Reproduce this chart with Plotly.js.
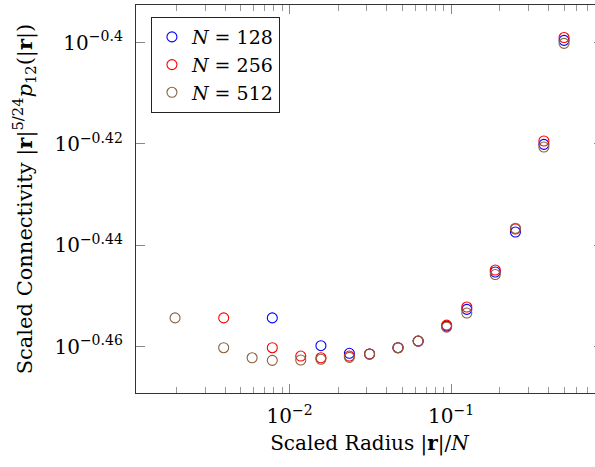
<!DOCTYPE html>
<html>
<head>
<meta charset="utf-8">
<script src="https://cdn.plot.ly/plotly-3.0.1.min.js"></script>
<style>
html,body{margin:0;padding:0;overflow:hidden;background:#fff;}
#chart{width:610px;height:467px;}
</style>
</head>
<body>
<div id="chart"></div>
<script>
// Scaled radius |r|/N and scaled connectivity values
const x128 = [1/128, 2/128, 3/128, 4/128, 6/128, 8/128, 12/128, 16/128, 24/128, 32/128, 48/128, 64/128];
const y128 = [0.35132, 0.34692, 0.34572, 0.34561, 0.34660, 0.34765, 0.35001, 0.35269, 0.35872, 0.36529, 0.38012, 0.39850];

const x256 = [1/256, 2/256, 3/256, 4/256, 6/256, 8/256, 12/256, 16/256, 24/256, 32/256, 48/256, 64/256, 96/256, 128/256];
const y256 = [0.35132, 0.34660, 0.34529, 0.34502, 0.34529, 0.34561, 0.34660, 0.34765, 0.35018, 0.35306, 0.35904, 0.36579, 0.38070, 0.39901];

const x512 = [1/512, 2/512, 3/512, 4/512, 6/512, 8/512, 12/512, 16/512, 24/512, 32/512, 48/512, 64/512, 96/512, 128/512, 192/512, 256/512];
const y512 = [0.35132, 0.34660, 0.34502, 0.34462, 0.34467, 0.34478, 0.34509, 0.34561, 0.34660, 0.34765, 0.34986, 0.35210, 0.35831, 0.36591, 0.37966, 0.39796];

const seriesNames = ['<i>N</i> = 128', '<i>N</i> = 256', '<i>N</i> = 512'];
const seriesColors = ['rgb(0,0,255)', 'rgb(255,0,0)', 'rgb(135,98,62)'];

const xTickVals = [0.01, 0.1];
const xTickText = ['10<sup>−2</sup>', '10<sup>−1</sup>'];
const yTickExp = [-0.46, -0.44, -0.42, -0.4];
const yTickText = ['10<sup>−0.46</sup>', '10<sup>−0.44</sup>', '10<sup>−0.42</sup>', '10<sup>−0.4</sup>'];

const xs = [x128, x256, x512];
const ys = [y128, y256, y512];
const traces = xs.map((xv, i) => ({
  x: xv, y: ys[i], type: 'scatter', mode: 'markers', name: seriesNames[i],
  marker: {symbol: 'circle-open', size: 10, color: seriesColors[i], line: {width: 1.1, color: seriesColors[i]}}
}));

const minorX = [];
[0.001, 0.01, 0.1].forEach(d => { for (let k = 2; k <= 9; k++) minorX.push(k * d); });

const fam = 'DejaVu Serif, Liberation Serif, serif';
const font = {family: fam, size: 20, color: '#000'};

const layout = {
  width: 610, height: 467,
  margin: {l: 136, r: 7, t: 5, b: 74},
  paper_bgcolor: '#fff', plot_bgcolor: '#fff',
  font: font,
  showlegend: true,
  legend: {x: 0.032, y: 0.969, xanchor: 'left', yanchor: 'top', bgcolor: '#fff',
           bordercolor: '#222', borderwidth: 1, font: {family: fam, size: 19, color: '#000'},
           tracegroupgap: 0, itemwidth: 30},
  xaxis: {
    type: 'log', range: [-2.951, -0.06],
    tickmode: 'array', tickvals: xTickVals, ticktext: xTickText,
    ticks: 'inside', ticklen: 9, tickwidth: 1, tickcolor: '#888',
    minor: {tickmode: 'array', tickvals: minorX, ticks: 'inside', ticklen: 6, tickwidth: 1, tickcolor: '#999', showgrid: false},
    showline: true, linecolor: '#333', linewidth: 1.2, mirror: 'allticks',
    showgrid: false, zeroline: false,
    tickfont: {family: fam, size: 20, color: '#000'},
    ticklabelstandoff: 5,
    title: {text: 'Scaled Radius |<b>r</b>|/<i>N</i>', font: {family: fam, size: 20, color: '#000'}, standoff: 8}
  },
  yaxis: {
    type: 'log', range: [-0.4691, -0.3926],
    tickmode: 'array', tickvals: yTickExp.map(e => Math.pow(10, e)), ticktext: yTickText,
    ticks: 'inside', ticklen: 9, tickwidth: 1, tickcolor: '#888',
    showline: true, linecolor: '#333', linewidth: 1.2, mirror: 'allticks',
    showgrid: false, zeroline: false,
    tickfont: {family: fam, size: 20, color: '#000'},
    ticklabelstandoff: 8,
    title: {text: 'Scaled Connectivity |<b>r</b>|<sup>5/24</sup><i>p</i><sub>12</sub>(|<b>r</b>|)', font: {family: fam, size: 21, color: '#000'}, standoff: 16}
  }
};

Plotly.newPlot('chart', traces, layout, {staticPlot: true, displayModeBar: false});
</script>
</body>
</html>
